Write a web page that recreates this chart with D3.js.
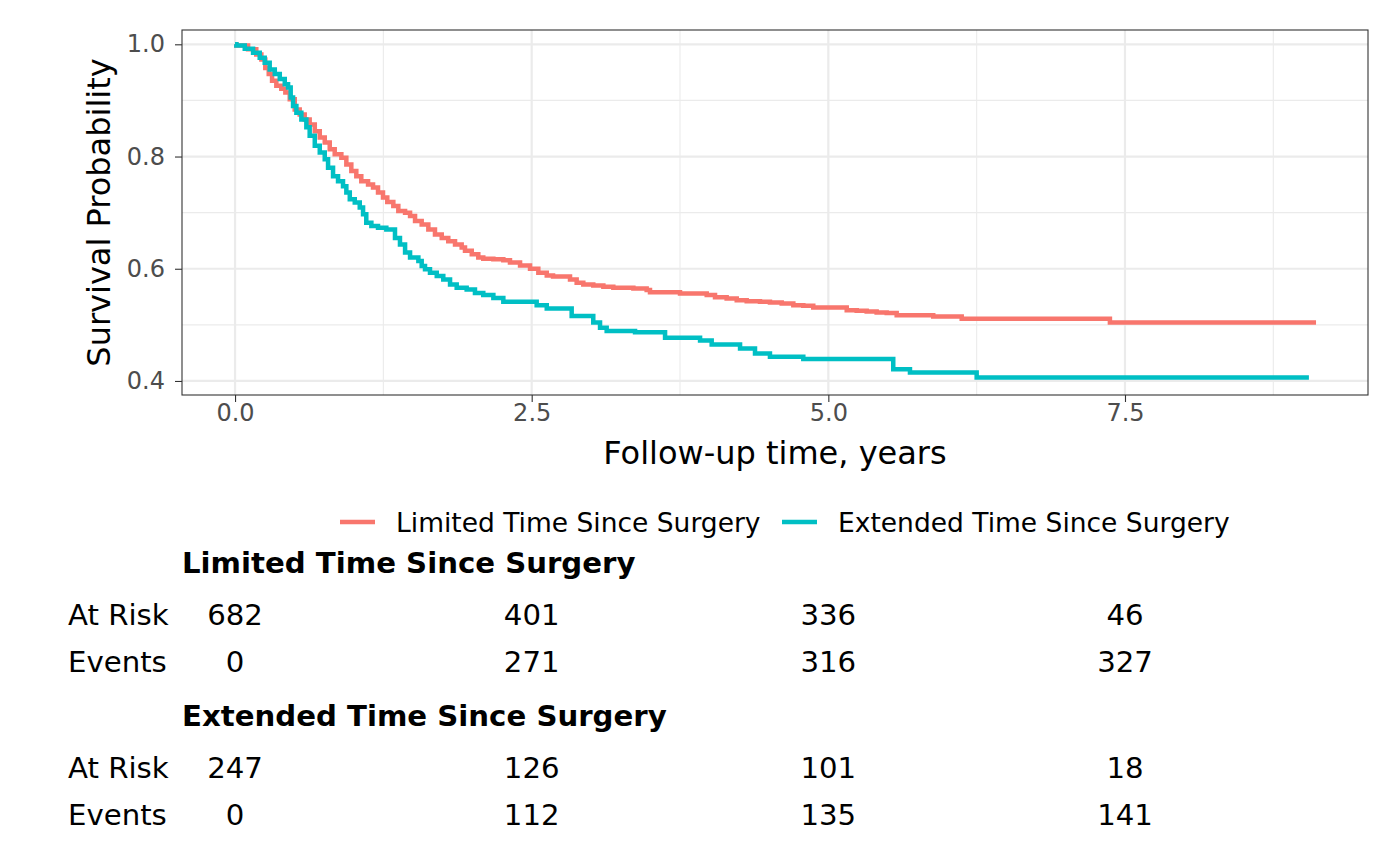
<!DOCTYPE html>
<html>
<head>
<meta charset="utf-8">
<script src="https://cdn.jsdelivr.net/npm/d3@7"></script>
<style>
body{margin:0;background:#fff;}
text{font-family:"DejaVu Sans",sans-serif;}
</style>
</head>
<body>
<svg id="chart" width="1400" height="865"></svg>
<script>
// KM estimates (years, survival)
var limitedTime = [0, 0.011, 0.110, 0.179, 0.222, 0.255, 0.284, 0.312, 0.348, 0.390, 0.424, 0.461, 0.503, 0.545, 0.587, 0.629, 0.672, 0.714, 0.756, 0.798, 0.840, 0.896, 0.938, 0.980, 1.022, 1.064, 1.121, 1.163, 1.205, 1.247, 1.283, 1.334, 1.376, 1.433, 1.475, 1.517, 1.573, 1.629, 1.685, 1.742, 1.797, 1.854, 1.910, 1.938, 1.995, 2.050, 2.092, 2.177, 2.261, 2.317, 2.402, 2.486, 2.556, 2.627, 2.680, 2.823, 2.879, 2.935, 3.019, 3.104, 3.188, 3.357, 3.469, 3.497, 3.750, 3.975, 4.045, 4.143, 4.228, 4.312, 4.424, 4.508, 4.607, 4.705, 4.789, 4.873, 5.155, 5.239, 5.323, 5.407, 5.492, 5.576, 5.884, 6.124, 7.373, 9.11];
var limitedSurv = [1.000, 0.998, 0.991, 0.982, 0.973, 0.958, 0.947, 0.935, 0.926, 0.921, 0.914, 0.902, 0.884, 0.875, 0.866, 0.857, 0.845, 0.834, 0.825, 0.813, 0.804, 0.798, 0.786, 0.774, 0.765, 0.756, 0.750, 0.745, 0.736, 0.727, 0.719, 0.712, 0.703, 0.700, 0.694, 0.685, 0.679, 0.670, 0.661, 0.655, 0.649, 0.643, 0.638, 0.632, 0.626, 0.620, 0.618, 0.617, 0.615, 0.611, 0.606, 0.600, 0.593, 0.588, 0.586, 0.581, 0.575, 0.572, 0.570, 0.568, 0.566, 0.565, 0.562, 0.558, 0.556, 0.553, 0.549, 0.547, 0.544, 0.542, 0.541, 0.540, 0.538, 0.535, 0.534, 0.531, 0.526, 0.525, 0.524, 0.522, 0.521, 0.517, 0.515, 0.511, 0.504, 0.504];
var extendedTime = [0, 0.011, 0.082, 0.152, 0.208, 0.250, 0.292, 0.335, 0.377, 0.419, 0.447, 0.469, 0.489, 0.517, 0.559, 0.601, 0.629, 0.672, 0.714, 0.756, 0.784, 0.826, 0.868, 0.910, 0.938, 0.967, 1.009, 1.051, 1.079, 1.106, 1.149, 1.205, 1.275, 1.348, 1.390, 1.433, 1.475, 1.545, 1.573, 1.601, 1.643, 1.700, 1.755, 1.812, 1.868, 1.952, 2.022, 2.092, 2.177, 2.261, 2.542, 2.627, 2.837, 3.019, 3.076, 3.132, 3.371, 3.624, 3.919, 4.017, 4.256, 4.382, 4.508, 4.789, 5.547, 5.688, 6.250, 9.05];
var extendedSurv = [1.000, 0.998, 0.992, 0.985, 0.976, 0.967, 0.955, 0.947, 0.938, 0.929, 0.923, 0.905, 0.890, 0.878, 0.866, 0.852, 0.837, 0.819, 0.807, 0.795, 0.780, 0.765, 0.756, 0.747, 0.736, 0.724, 0.718, 0.709, 0.697, 0.682, 0.676, 0.673, 0.670, 0.655, 0.643, 0.629, 0.620, 0.614, 0.605, 0.599, 0.593, 0.587, 0.581, 0.572, 0.566, 0.563, 0.557, 0.553, 0.548, 0.541, 0.535, 0.529, 0.516, 0.504, 0.495, 0.489, 0.487, 0.477, 0.472, 0.465, 0.458, 0.449, 0.443, 0.439, 0.421, 0.415, 0.406, 0.406];

var groups = ['Limited Time Since Surgery', 'Extended Time Since Surgery'];
var colors = ['#F8766D', '#00BFC4'];

var xTicks = [0, 2.5, 5, 7.5];
var xMinor = [1.25, 3.75, 6.25, 8.75];
var yTicks = [0.4, 0.6, 0.8, 1.0];
var yMinor = [0.5, 0.7, 0.9];

var riskTimes = [0, 2.5, 5, 7.5];
var atRiskLimited = [682, 401, 336, 46];
var eventsLimited = [0, 271, 316, 327];
var atRiskExtended = [247, 126, 101, 18];
var eventsExtended = [0, 112, 135, 141];

var panel = {left: 182, right: 1368, top: 30, bottom: 395};
var svg = d3.select('#chart');

var x = d3.scaleLinear().domain([-0.447, 9.548]).range([panel.left, panel.right]);
var y = d3.scaleLinear().domain([0.375, 1.0255]).range([panel.bottom, panel.top]);

//grid
var grid = svg.append('g');
grid.selectAll('.xmin').data(xMinor).enter().append('line')
	.attr('x1', x).attr('x2', x).attr('y1', panel.top).attr('y2', panel.bottom)
	.attr('stroke', '#EBEBEB').attr('stroke-width', 1.1);
grid.selectAll('.ymin').data(yMinor).enter().append('line')
	.attr('y1', y).attr('y2', y).attr('x1', panel.left).attr('x2', panel.right)
	.attr('stroke', '#EBEBEB').attr('stroke-width', 1.1);
grid.selectAll('.xmaj').data(xTicks).enter().append('line')
	.attr('x1', x).attr('x2', x).attr('y1', panel.top).attr('y2', panel.bottom)
	.attr('stroke', '#EBEBEB').attr('stroke-width', 2.2);
grid.selectAll('.ymaj').data(yTicks).enter().append('line')
	.attr('y1', y).attr('y2', y).attr('x1', panel.left).attr('x2', panel.right)
	.attr('stroke', '#EBEBEB').attr('stroke-width', 2.2);

//curves
var line = d3.line()
	.x(function(d){ return x(d[0]); })
	.y(function(d){ return y(d[1]); })
	.curve(d3.curveStepAfter);
var series = [d3.zip(limitedTime, limitedSurv), d3.zip(extendedTime, extendedSurv)];
svg.append('g').selectAll('path').data(series).enter().append('path')
	.attr('d', line)
	.attr('fill', 'none')
	.attr('stroke', function(d, i){ return colors[i]; })
	.attr('stroke-width', 4.5);

//border
svg.append('rect')
	.attr('x', panel.left).attr('y', panel.top)
	.attr('width', panel.right - panel.left).attr('height', panel.bottom - panel.top)
	.attr('fill', 'none').attr('stroke', '#333333').attr('stroke-width', 1.1);

//axes
var xAxis = svg.append('g').attr('transform', 'translate(0,' + panel.bottom + ')')
	.call(d3.axisBottom(x).tickValues(xTicks).tickFormat(d3.format('.1f')).tickSizeOuter(0).tickSize(7).tickPadding(2));
var yAxis = svg.append('g').attr('transform', 'translate(' + panel.left + ',0)')
	.call(d3.axisLeft(y).tickValues(yTicks).tickFormat(d3.format('.1f')).tickSizeOuter(0).tickSize(7).tickPadding(10));
[xAxis, yAxis].forEach(function(a){
	a.select('.domain').remove();
	a.selectAll('.tick line').attr('stroke', '#333333').attr('stroke-width', 1.1);
	a.selectAll('.tick text').attr('fill', '#4D4D4D').style('font-size', '24px').attr('font-family', null);
});

svg.append('text')
	.attr('x', (panel.left + panel.right) / 2).attr('y', 464)
	.attr('text-anchor', 'middle').style('font-size', '32px')
	.text('Follow-up time, years');
svg.append('text')
	.attr('transform', 'translate(110,' + (panel.top + panel.bottom) / 2 + ') rotate(-90)')
	.attr('text-anchor', 'middle').style('font-size', '32px')
	.text('Survival Probability');

//legend
var legendX = [340, 782];
var legend = svg.append('g');
groups.forEach(function(g, i){
	legend.append('line')
		.attr('x1', legendX[i]).attr('x2', legendX[i] + 35)
		.attr('y1', 522).attr('y2', 522)
		.attr('stroke', colors[i]).attr('stroke-width', 4.5);
	legend.append('text')
		.attr('x', legendX[i] + 56).attr('y', 531.5)
		.style('font-size', '26.5px')
		.text(g);
});

//risk table
var table = [
	{title: groups[0], risk: atRiskLimited, events: eventsLimited, y: 573},
	{title: groups[1], risk: atRiskExtended, events: eventsExtended, y: 726}
];
var tbl = svg.append('g');
table.forEach(function(t){
	tbl.append('text')
		.attr('x', panel.left).attr('y', t.y)
		.style('font-size', '29.2px').style('font-weight', 'bold')
		.text(t.title);
	[['At Risk', t.risk, t.y + 52], ['Events', t.events, t.y + 99]].forEach(function(row){
		tbl.append('text')
			.attr('x', 68).attr('y', row[2])
			.style('font-size', '29.2px')
			.text(row[0]);
		tbl.selectAll(null).data(row[1]).enter().append('text')
			.attr('x', function(d, i){ return x(riskTimes[i]); })
			.attr('y', row[2])
			.attr('text-anchor', 'middle')
			.style('font-size', '29.2px')
			.text(function(d){ return d; });
	});
});
</script>
</body>
</html>
